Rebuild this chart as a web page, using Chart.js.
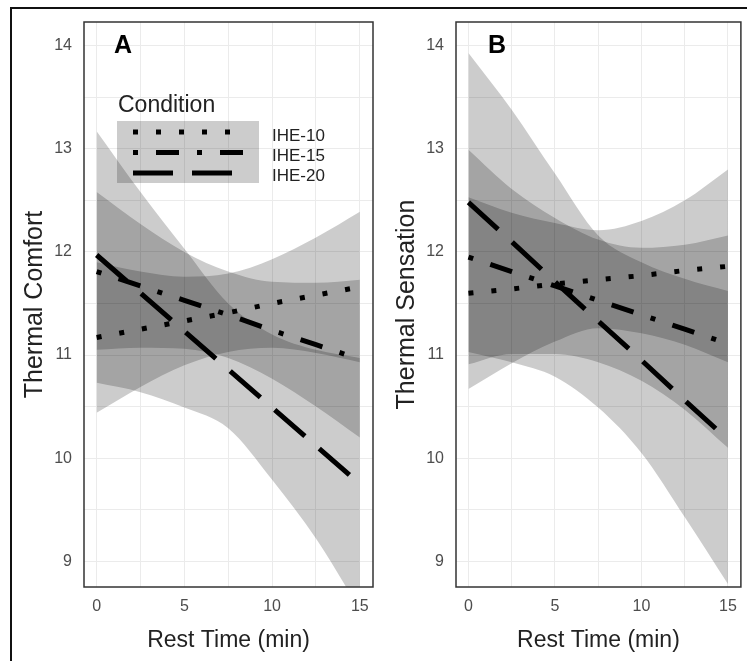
<!DOCTYPE html>
<html>
<head>
<meta charset="utf-8">
<script src="https://cdn.jsdelivr.net/npm/chart.js@4.4.1/dist/chart.umd.min.js"></script>
<style>
  html, body { margin: 0; padding: 0; background: #fff; }
  #wrap { position: relative; width: 747px; height: 661px; overflow: hidden; }
  canvas { position: absolute; top: 0; }
  #chartA { left: 0; }
  #chartB { left: 380px; }
  #frame { position: absolute; left: 10px; top: 7px; width: 800px; height: 700px;
           border-left: 2px solid #111; border-top: 2px solid #111; pointer-events: none; }
</style>
</head>
<body>
<div id="wrap">
  <canvas id="chartA" width="380" height="661"></canvas>
  <canvas id="chartB" width="367" height="661"></canvas>
  <div id="frame"></div>
</div>
<script>
// Data
const restTime = [0, 2.5, 5, 7.5, 10, 12.5, 15];
const conditions = ['IHE-10', 'IHE-15', 'IHE-20'];
const xBreaks = [0, 2.5, 5, 7.5, 10, 12.5, 15];
const xTickLabels = [0, 5, 10, 15];
const yBreaks = [9, 9.5, 10, 10.5, 11, 11.5, 12, 12.5, 13, 13.5, 14];
const yTickLabels = [9, 10, 11, 12, 13, 14];

// Panel A - Thermal Comfort
const comfortFit10   = [11.17, 11.25, 11.33, 11.41, 11.50, 11.58, 11.66];
const comfortUpper10 = [11.90, 11.81, 11.76, 11.79, 11.93, 12.14, 12.39];
const comfortLower10 = [10.44, 10.69, 10.90, 11.03, 11.07, 11.02, 10.93];
const comfortFit15   = [11.81, 11.67, 11.53, 11.39, 11.24, 11.10, 10.96];
const comfortUpper15 = [12.58, 12.27, 12.00, 11.81, 11.71, 11.70, 11.73];
const comfortLower15 = [11.05, 11.07, 11.06, 10.97, 10.77, 10.50, 10.20];
const comfortFit20   = [11.97, 11.60, 11.23, 10.86, 10.49, 10.12, 9.75];
const comfortUpper20 = [13.17, 12.58, 12.03, 11.50, 11.20, 11.05, 10.97];
const comfortLower20 = [10.73, 10.64, 10.49, 10.29, 9.79, 9.22, 8.53];

// Panel B - Thermal Sensation
const sensationFit10   = [11.60, 11.64, 11.69, 11.73, 11.77, 11.82, 11.86];
const sensationUpper10 = [12.53, 12.38, 12.28, 12.21, 12.30, 12.50, 12.80];
const sensationLower10 = [10.67, 10.92, 11.13, 11.26, 11.21, 11.10, 10.93];
const sensationFit15   = [11.95, 11.81, 11.67, 11.53, 11.39, 11.25, 11.11];
const sensationUpper15 = [12.99, 12.61, 12.33, 12.12, 12.04, 12.07, 12.16];
const sensationLower15 = [10.91, 11.01, 11.01, 10.93, 10.75, 10.47, 10.10];
const sensationFit20   = [12.48, 12.10, 11.71, 11.33, 10.95, 10.56, 10.18];
const sensationUpper20 = [13.93, 13.38, 12.76, 12.16, 11.90, 11.74, 11.62];
const sensationLower20 = [11.03, 10.93, 10.79, 10.49, 10.05, 9.43, 8.78];

const FONT = '"Liberation Sans", Arial, sans-serif';
const ribbonFill = 'rgba(0, 0, 0, 0.2)';
const dashes = { 'IHE-10': [5, 18], 'IHE-15': [5, 18, 23, 18], 'IHE-20': [40, 19] };

function xy(values) {
  return restTime.map((t, i) => ({ x: t, y: values[i] }));
}

// fitted lines first so they are drawn on top of the ribbons
function buildDatasets(fits, uppers, lowers) {
  const lines = conditions.map((c, i) => ({
    label: c,
    data: xy(fits[i]),
    borderColor: '#000',
    borderWidth: 5,
    borderDash: dashes[c],
    borderCapStyle: 'butt',
    pointRadius: 0,
    tension: 0,
    fill: false
  }));
  const ribbons = [];
  conditions.forEach((c, i) => {
    ribbons.push({
      label: c + ' upper', data: xy(uppers[i]),
      borderWidth: 0, borderColor: 'rgba(0,0,0,0)', backgroundColor: ribbonFill,
      pointRadius: 0, cubicInterpolationMode: 'monotone', fill: '+1'
    });
    ribbons.push({
      label: c + ' lower', data: xy(lowers[i]),
      borderWidth: 0, borderColor: 'rgba(0,0,0,0)',
      pointRadius: 0, cubicInterpolationMode: 'monotone', fill: false
    });
  });
  return lines.concat(ribbons);
}

// panel border and the A / B tag
const panelDecor = {
  id: 'panelDecor',
  afterDraw(chart, args, opts) {
    const { ctx, chartArea: a, scales } = chart;
    ctx.save();
    ctx.strokeStyle = '#333';
    ctx.lineWidth = 1.5;
    ctx.strokeRect(a.left, a.top, a.width, a.height);
    ctx.fillStyle = '#000';
    ctx.font = 'bold 25px ' + FONT;
    ctx.textAlign = 'center';
    ctx.textBaseline = 'middle';
    ctx.fillText(opts.letter, scales.x.getPixelForValue(opts.letterX), scales.y.getPixelForValue(14));
    ctx.restore();
  }
};

// legend inside panel A
const conditionLegend = {
  id: 'conditionLegend',
  afterDraw(chart) {
    const { ctx, chartArea: a } = chart;
    const left = a.left + 33;
    const top = a.top + 99;
    ctx.save();
    ctx.fillStyle = '#222';
    ctx.font = '23px ' + FONT;
    ctx.textAlign = 'left';
    ctx.textBaseline = 'alphabetic';
    ctx.fillText('Condition', left + 1, top - 9);
    ctx.fillStyle = ribbonFill;
    ctx.fillRect(left, top, 142, 62);
    conditions.forEach((c, i) => {
      const y = top + 11 + i * 20.5;
      ctx.strokeStyle = '#000';
      ctx.lineWidth = 5;
      ctx.lineCap = 'butt';
      ctx.setLineDash(dashes[c]);
      ctx.beginPath();
      ctx.moveTo(left + 16, y);
      ctx.lineTo(left + 128, y);
      ctx.stroke();
      ctx.setLineDash([]);
      ctx.fillStyle = '#222';
      ctx.font = '17px ' + FONT;
      ctx.textBaseline = 'middle';
      ctx.fillText(c, left + 155, top + 15 + i * 20);
    });
    ctx.restore();
  }
};

function makeChart(canvasId, fits, uppers, lowers, yTitle, opts) {
  return new Chart(document.getElementById(canvasId), {
    type: 'line',
    data: { datasets: buildDatasets(fits, uppers, lowers) },
    options: {
      responsive: false,
      animation: false,
      layout: { padding: { top: 22, right: opts.padRight, left: 0, bottom: 0 } },
      plugins: {
        legend: { display: false },
        tooltip: { enabled: false },
        panelDecor: { letter: opts.letter, letterX: opts.letterX }
      },
      scales: {
        x: {
          type: 'linear',
          min: -0.72,
          max: 15.75,
          afterBuildTicks: axis => { axis.ticks = xBreaks.map(v => ({ value: v })); },
          afterFit: axis => { axis.height = 74; },
          grid: { color: '#ebebeb', lineWidth: 1, drawTicks: false },
          border: { display: false },
          ticks: {
            autoSkip: false, maxRotation: 0, padding: 10, color: '#4d4d4d',
            font: { family: FONT, size: 16 },
            callback: v => xTickLabels.includes(v) ? String(v) : ''
          },
          title: {
            display: true, text: 'Rest Time (min)', color: '#222',
            font: { family: FONT, size: 23 }, padding: { top: 0, bottom: 7 }
          }
        },
        y: {
          type: 'linear',
          min: 8.75,
          max: 14.23,
          afterBuildTicks: axis => { axis.ticks = yBreaks.map(v => ({ value: v })); },
          afterFit: axis => { axis.width = opts.yWidth; },
          grid: { color: '#ebebeb', lineWidth: 1, drawTicks: false },
          border: { display: false },
          ticks: {
            autoSkip: false, padding: 12, color: '#4d4d4d',
            font: { family: FONT, size: 16 },
            callback: v => yTickLabels.includes(v) ? String(v) : ''
          },
          title: {
            display: true, text: yTitle, color: '#222',
            font: { family: FONT, size: 25 }, padding: { top: opts.titlePad, bottom: 0 }
          }
        }
      }
    },
    plugins: opts.legend ? [panelDecor, conditionLegend] : [panelDecor]
  });
}

makeChart('chartA',
  [comfortFit10, comfortFit15, comfortFit20],
  [comfortUpper10, comfortUpper15, comfortUpper20],
  [comfortLower10, comfortLower15, comfortLower20],
  'Thermal Comfort',
  { yWidth: 84, padRight: 7, titlePad: 20, letter: 'A', letterX: 1.5, legend: true });

makeChart('chartB',
  [sensationFit10, sensationFit15, sensationFit20],
  [sensationUpper10, sensationUpper15, sensationUpper20],
  [sensationLower10, sensationLower15, sensationLower20],
  'Thermal Sensation',
  { yWidth: 76, padRight: 4, titlePad: 12, letter: 'B', letterX: 1.65, legend: false });
</script>
</body>
</html>
